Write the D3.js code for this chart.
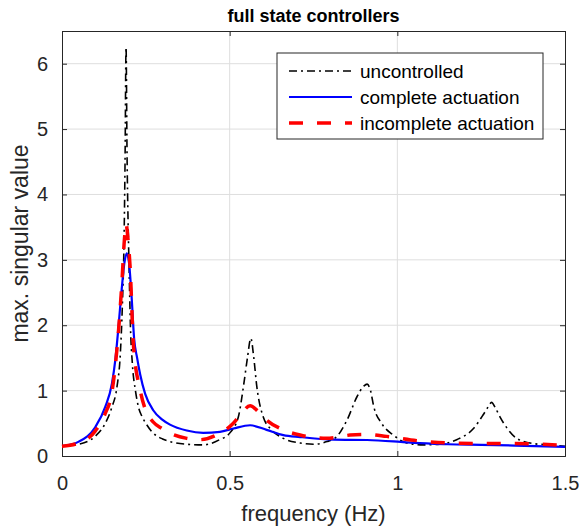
<!DOCTYPE html>
<html>
<head>
<meta charset="utf-8">
<script src="https://cdn.jsdelivr.net/npm/d3@7"></script>
<style>
  body { margin: 0; background: #fff; }
  text { font-family: "Liberation Sans", Arial, sans-serif; fill: #262626; }
</style>
</head>
<body>
<div id="chart"></div>
<script>
// data
const xTicks = [0, 0.5, 1, 1.5];
const yTicks = [0, 1, 2, 3, 4, 5, 6];

const uncFreq = [0, 0.05, 0.099, 0.129, 0.149, 0.164, 0.174, 0.18, 0.185, 0.188, 0.191, 0.194, 0.197, 0.2, 0.204, 0.21, 0.219, 0.228, 0.239, 0.25, 0.27, 0.3, 0.33, 0.37, 0.42, 0.47, 0.5, 0.526, 0.541, 0.553, 0.563, 0.572, 0.581, 0.6, 0.625, 0.66, 0.71, 0.75, 0.79, 0.82, 0.85, 0.88, 0.9, 0.91, 0.92, 0.93, 0.953, 0.988, 1.028, 1.077, 1.127, 1.177, 1.227, 1.256, 1.272, 1.281, 1.292, 1.306, 1.331, 1.356, 1.405, 1.455, 1.5];
const uncVal = [0.15, 0.18, 0.30, 0.50, 0.75, 1.06, 1.57, 2.3, 3.3, 4.5, 6.25, 4.6, 3.6, 2.9, 2.0, 1.4, 1.0, 0.75, 0.6, 0.5, 0.36, 0.26, 0.21, 0.18, 0.17, 0.25, 0.35, 0.6, 1.06, 1.5, 1.8, 1.5, 1.06, 0.6, 0.40, 0.27, 0.20, 0.18, 0.22, 0.30, 0.55, 0.91, 1.07, 1.1, 1.0, 0.75, 0.5, 0.32, 0.20, 0.17, 0.18, 0.25, 0.42, 0.63, 0.76, 0.82, 0.74, 0.6, 0.4, 0.27, 0.19, 0.17, 0.15];

const compFreq = [0, 0.05, 0.099, 0.129, 0.149, 0.159, 0.168, 0.178, 0.186, 0.193, 0.2, 0.208, 0.215, 0.224, 0.233, 0.248, 0.272, 0.298, 0.322, 0.372, 0.421, 0.471, 0.511, 0.561, 0.61, 0.66, 0.71, 0.81, 0.91, 1.01, 1.05, 1.15, 1.25, 1.35, 1.5];
const compVal = [0.15, 0.22, 0.44, 0.75, 1.11, 1.47, 1.95, 2.55, 2.95, 3.1, 2.95, 2.4, 1.8, 1.5, 1.25, 0.95, 0.70, 0.56, 0.48, 0.39, 0.355, 0.37, 0.42, 0.47, 0.40, 0.32, 0.29, 0.25, 0.245, 0.215, 0.2, 0.18, 0.17, 0.16, 0.14];

const incFreq = [0, 0.05, 0.099, 0.129, 0.149, 0.168, 0.178, 0.186, 0.191, 0.197, 0.203, 0.213, 0.233, 0.248, 0.272, 0.298, 0.322, 0.372, 0.412, 0.471, 0.511, 0.535, 0.561, 0.585, 0.61, 0.66, 0.71, 0.789, 0.859, 0.909, 0.968, 1.058, 1.147, 1.247, 1.336, 1.425, 1.5];
const incVal = [0.15, 0.2, 0.38, 0.65, 0.98, 1.88, 2.6, 3.3, 3.55, 3.3, 2.9, 1.7, 1.01, 0.72, 0.52, 0.42, 0.35, 0.27, 0.25, 0.35, 0.5, 0.65, 0.77, 0.68, 0.55, 0.4, 0.32, 0.27, 0.32, 0.33, 0.30, 0.235, 0.2, 0.19, 0.19, 0.18, 0.16];

const seriesNames = ['uncontrolled', 'complete actuation', 'incomplete actuation'];

const W = 579, H = 529;
const margin = { left: 62, right: 14, top: 31, bottom: 73 };

const svg = d3.select('#chart').append('svg')
    .attr('width', W)
    .attr('height', H);

const x = d3.scaleLinear().domain([0, 1.5]).range([margin.left, W - margin.right]);
const y = d3.scaleLinear().domain([0, 6.5]).range([H - margin.bottom, margin.top]);

// grid
svg.append('g').selectAll('line')
    .data(xTicks.slice(1, -1))
    .enter().append('line')
    .attr('x1', d => x(d)).attr('x2', d => x(d))
    .attr('y1', y(0)).attr('y2', y(6.5))
    .attr('stroke', '#dedede').attr('stroke-width', 1);
svg.append('g').selectAll('line')
    .data(yTicks.slice(1))
    .enter().append('line')
    .attr('x1', x(0)).attr('x2', x(1.5))
    .attr('y1', d => y(d)).attr('y2', d => y(d))
    .attr('stroke', '#dedede').attr('stroke-width', 1);

// axes, ticks pointing inwards on all four sides
const axisCol = '#262626';
const axBottom = svg.append('g').attr('transform', `translate(0,${y(0)})`)
    .call(d3.axisBottom(x).tickValues(xTicks).tickSize(-5).tickPadding(20).tickFormat(d3.format('')));
const axTop = svg.append('g').attr('transform', `translate(0,${y(6.5)})`)
    .call(d3.axisTop(x).tickValues(xTicks).tickSize(-5).tickFormat(''));
const axLeft = svg.append('g').attr('transform', `translate(${x(0)},0)`)
    .call(d3.axisLeft(y).tickValues(yTicks).tickSize(-5).tickPadding(14).tickFormat(d3.format('')));
const axRight = svg.append('g').attr('transform', `translate(${x(1.5)},0)`)
    .call(d3.axisRight(y).tickValues(yTicks).tickSize(-5).tickFormat(''));

[axBottom, axTop, axLeft, axRight].forEach(g => {
    g.select('.domain').attr('stroke', axisCol).attr('stroke-width', 1);
    g.selectAll('.tick line').attr('stroke', axisCol);
    g.selectAll('.tick text')
        .attr('font-family', '"Liberation Sans", Arial, sans-serif')
        .attr('font-size', 20)
        .attr('fill', axisCol);
});

// curves
const lineGen = d3.line()
    .x(d => x(d[0]))
    .y(d => y(d[1]))
    .curve(d3.curveMonotoneX);

const plot = svg.append('g');
plot.append('path')
    .datum(uncFreq.map((f, i) => [f, uncVal[i]]))
    .attr('d', lineGen)
    .attr('fill', 'none').attr('stroke', '#000').attr('stroke-width', 1.6)
    .attr('stroke-dasharray', '8,4,2,4');
plot.append('path')
    .datum(compFreq.map((f, i) => [f, compVal[i]]))
    .attr('d', lineGen)
    .attr('fill', 'none').attr('stroke', '#0000ff').attr('stroke-width', 2.2);
plot.append('path')
    .datum(incFreq.map((f, i) => [f, incVal[i]]))
    .attr('d', lineGen)
    .attr('fill', 'none').attr('stroke', '#ff0000').attr('stroke-width', 3.5)
    .attr('stroke-dasharray', '14,14');

// titles
svg.append('text')
    .attr('x', (x(0) + x(1.5)) / 2).attr('y', 22)
    .attr('text-anchor', 'middle')
    .attr('font-size', 18).attr('font-weight', 'bold').style('fill', '#000')
    .text('full state controllers');
svg.append('text')
    .attr('x', (x(0) + x(1.5)) / 2).attr('y', 521)
    .attr('text-anchor', 'middle')
    .attr('font-size', 22)
    .text('frequency (Hz)');
svg.append('text')
    .attr('transform', `translate(28,${(y(0) + y(6.5)) / 2}) rotate(-90)`)
    .attr('text-anchor', 'middle')
    .attr('font-size', 23)
    .text('max. singular value');

// legend
const legend = svg.append('g').attr('transform', 'translate(277,53)');
legend.append('rect')
    .attr('width', 266).attr('height', 86)
    .attr('fill', '#fff').attr('stroke', axisCol).attr('stroke-width', 1);
const legStyles = [
    { color: '#000', width: 1.6, dash: '8,4,2,4' },
    { color: '#0000ff', width: 2.2, dash: null },
    { color: '#ff0000', width: 3.5, dash: '14,14' }
];
seriesNames.forEach((name, i) => {
    const ly = 18 + i * 26;
    legend.append('line')
        .attr('x1', 12).attr('x2', 75).attr('y1', ly).attr('y2', ly)
        .attr('stroke', legStyles[i].color).attr('stroke-width', legStyles[i].width)
        .attr('stroke-dasharray', legStyles[i].dash);
    legend.append('text')
        .attr('x', 83).attr('y', ly + 7)
        .attr('font-size', 19).style('fill', '#000')
        .text(name);
});
</script>
</body>
</html>
